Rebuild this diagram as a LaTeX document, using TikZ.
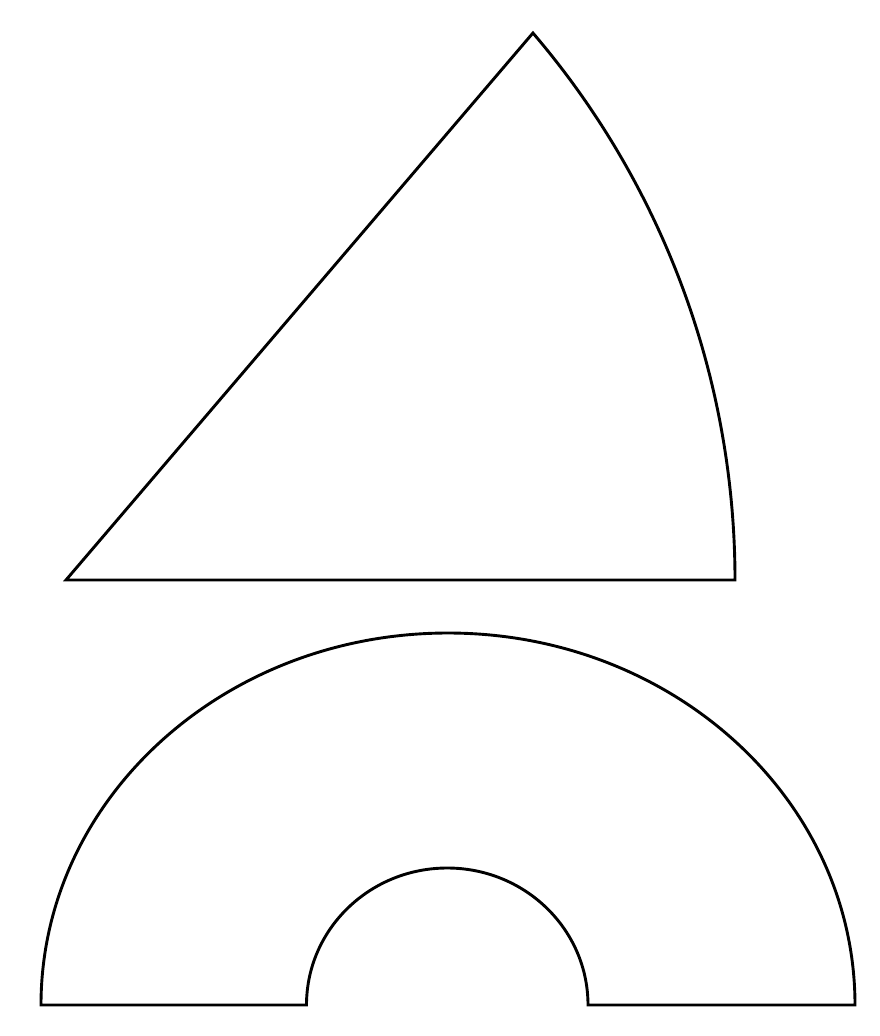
\documentclass[tikz,border=0pt]{standalone}
\begin{document}
\begin{tikzpicture}[x=1pt,y=-1pt,outline/.style={draw=black,line width=2.9pt,line join=miter}]
\useasboundingbox (0,0) rectangle (880,1036);
% sector
\coordinate (A) at (66,580);
\coordinate (B) at (735,580);
\coordinate (C) at (533,33);
\draw[outline] (A) -- (B) arc[start angle=0,end angle=-40.54,radius=841.6] -- cycle;
% half annulus
\coordinate (O1) at (41,1005);
\coordinate (I1) at (306.5,1005);
\coordinate (I2) at (588,1005);
\coordinate (O2) at (855,1005);
\draw[outline] (O1) arc[start angle=180,end angle=360,x radius=407,y radius=372] -- (I2)
  arc[start angle=0,end angle=-180,x radius=140.75,y radius=137] -- cycle;
\end{tikzpicture}
\end{document}
